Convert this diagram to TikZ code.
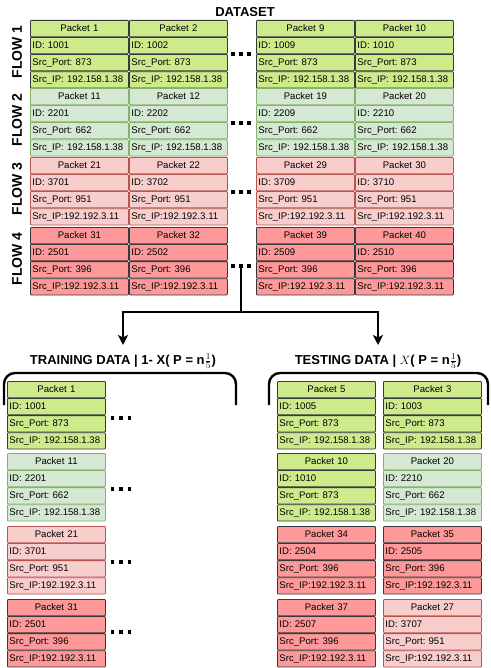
\documentclass[tikz,border=0pt]{standalone}
\usepackage{fontspec}
\setmainfont{Liberation Sans}
\usetikzlibrary{arrows.meta}
\frenchspacing
\definecolor{fAfill}{HTML}{CDEB8B}
\definecolor{fAdraw}{HTML}{36393D}
\definecolor{fBfill}{HTML}{D5E8D4}
\definecolor{fBdraw}{HTML}{82B366}
\definecolor{fCfill}{HTML}{F8CECC}
\definecolor{fCdraw}{HTML}{B85450}
\definecolor{fDfill}{HTML}{FF9999}
\definecolor{fDdraw}{HTML}{36393D}
\tikzset{
  cell/.style={draw, rounded corners=0.8pt, line width=0.8pt, minimum height=16.3pt,
    inner xsep=2pt, inner ysep=0pt, anchor=north west, text height=7pt, text depth=2pt,
    font=\fontsize{9.6}{10}\selectfont, text width=94pt},
  hcell/.style={cell, align=center},
  bcell/.style={cell, align=left},
  fA/.style={fill=fAfill, draw=fAdraw},
  fB/.style={fill=fBfill, draw=fBdraw},
  fC/.style={fill=fCfill, draw=fCdraw},
  fD/.style={fill=fDfill, draw=fDdraw},
  sq/.style={fill=black, draw=none, inner sep=0pt, minimum size=#1},
  sq/.default=4pt,
  flowlbl/.style={rotate=90, font=\fontsize{14}{16}\selectfont\bfseries, inner sep=0pt},
  titlelbl/.style={font=\fontsize{13}{15}\selectfont\bfseries, inner sep=0pt},
  conn/.style={line width=2pt, draw=black},
  tip/.style={-{Stealth[length=10pt,width=10pt,inset=2.5pt]}},
  bracket/.style={line width=2.4pt, rounded corners=11pt},
}
\newcommand\ipA{Src\_IP: 192.158.1.38}
\newcommand\ipB{Src\_IP:192.192.3.11}
% name, x, y, style, title, id, port, ip
\newcommand\pkt[8]{%
  \node[hcell,#4] (#1h) at (#2,#3) {#5};
  \node[bcell,#4] (#1i) at (#1h.south west) {ID: #6};
  \node[bcell,#4] (#1s) at (#1i.south west) {Src\_Port: #7};
  \node[bcell,#4] (#1p) at (#1s.south west) {#8};
}
% name, x, y, size, gap
\newcommand\threesq[5]{%
  \node[sq=#4] (#1a) at (#2-#5,#3) {};
  \node[sq=#4] (#1b) at (#2,#3) {};
  \node[sq=#4] (#1c) at (#2+#5,#3) {};
}
\begin{document}
\begin{tikzpicture}[x=1pt,y=-1pt]
\useasboundingbox[fill=white] (0,0) rectangle (490,668);

\node[titlelbl] (ds) at (245,12) {DATASET};

% Flow labels
\node[flowlbl] (fl1) at (17,52) {FLOW 1};
\node[flowlbl] (fl2) at (17,120) {FLOW 2};
\node[flowlbl] (fl3) at (17,189) {FLOW 3};
\node[flowlbl] (fl4) at (17,259) {FLOW 4};

% Flow 1
\pkt{a1}{30}{20}{fA}{Packet 1}{1001}{873}{\ipA}
\pkt{a2}{129}{20}{fA}{Packet 2}{1002}{873}{\ipA}
\pkt{a9}{256}{20}{fA}{Packet 9}{1009}{873}{\ipA}
\pkt{a10}{355}{20}{fA}{Packet 10}{1010}{873}{\ipA}
% Flow 2
\pkt{b11}{30}{88}{fB}{Packet 11}{2201}{662}{\ipA}
\pkt{b12}{129}{88}{fB}{Packet 12}{2202}{662}{\ipA}
\pkt{b19}{256}{88}{fB}{Packet 19}{2209}{662}{\ipA}
\pkt{b20}{355}{88}{fB}{Packet 20}{2210}{662}{\ipA}
% Flow 3
\pkt{c21}{30}{157}{fC}{Packet 21}{3701}{951}{\ipB}
\pkt{c22}{129}{157}{fC}{Packet 22}{3702}{951}{\ipB}
\pkt{c29}{256}{157}{fC}{Packet 29}{3709}{951}{\ipB}
\pkt{c30}{355}{157}{fC}{Packet 30}{3710}{951}{\ipB}
% Flow 4
\pkt{d31}{30}{227}{fD}{Packet 31}{2501}{396}{\ipB}
\pkt{d32}{129}{227}{fD}{Packet 32}{2502}{396}{\ipB}
\pkt{d39}{256}{227}{fD}{Packet 39}{2509}{396}{\ipB}
\pkt{d40}{355}{227}{fD}{Packet 40}{2510}{396}{\ipB}

% dots between columns
\threesq{ta}{241}{54}{4pt}{8}
\threesq{tb}{241}{123}{4pt}{8}
\threesq{tc}{241}{192}{4pt}{8}
\threesq{td}{241}{266}{4pt}{8}

% split connector
\coordinate (jn) at (241,312);
\coordinate (jl) at (123,312);
\coordinate (jr) at (378,312);
\coordinate (tl) at (123,345);
\coordinate (tr) at (378,345);
\draw[conn] (tdb.center) -- (jn);
\draw[conn,tip] (jn) -- (jl) -- (tl);
\draw[conn,tip] (jn) -- (jr) -- (tr);

% headings
\node[titlelbl] (trh) at (123,361) {TRAINING DATA | 1- X( P = n$\frac{1}{5}$)};
\node[titlelbl] (teh) at (378,361) {TESTING DATA | $X$( P = n$\frac{1}{5}$)};

% brackets
\draw[bracket] (4,405) -- (4,373) -- (236,373) -- (236,405);
\draw[bracket] (269,405) -- (269,373) -- (488,373) -- (488,405);

% training data
\pkt{r1}{7}{381}{fA}{Packet 1}{1001}{873}{\ipA}
\pkt{r11}{7}{453}{fB}{Packet 11}{2201}{662}{\ipA}
\pkt{r21}{7}{526}{fC}{Packet 21}{3701}{951}{\ipB}
\pkt{r31}{7}{599}{fD}{Packet 31}{2501}{396}{\ipB}
\threesq{ra}{121}{418}{3.4pt}{8.5}
\threesq{rb}{121}{489}{3.4pt}{8.5}
\threesq{rc}{121}{562}{3.4pt}{8.5}
\threesq{rd}{121}{632}{3.4pt}{8.5}

% testing data
\pkt{s5}{277}{381}{fA}{Packet 5}{1005}{873}{\ipA}
\pkt{s3}{383}{381}{fA}{Packet 3}{1003}{873}{\ipA}
\pkt{s10}{277}{453}{fA}{Packet 10}{1010}{873}{\ipA}
\pkt{s20}{383}{453}{fB}{Packet 20}{2210}{662}{\ipA}
\pkt{s34}{277}{526}{fD}{Packet 34}{2504}{396}{\ipB}
\pkt{s35}{383}{526}{fD}{Packet 35}{2505}{396}{\ipB}
\pkt{s37}{277}{599}{fD}{Packet 37}{2507}{396}{\ipB}
\pkt{s27}{383}{599}{fC}{Packet 27}{3707}{951}{\ipB}
\end{tikzpicture}
\end{document}
